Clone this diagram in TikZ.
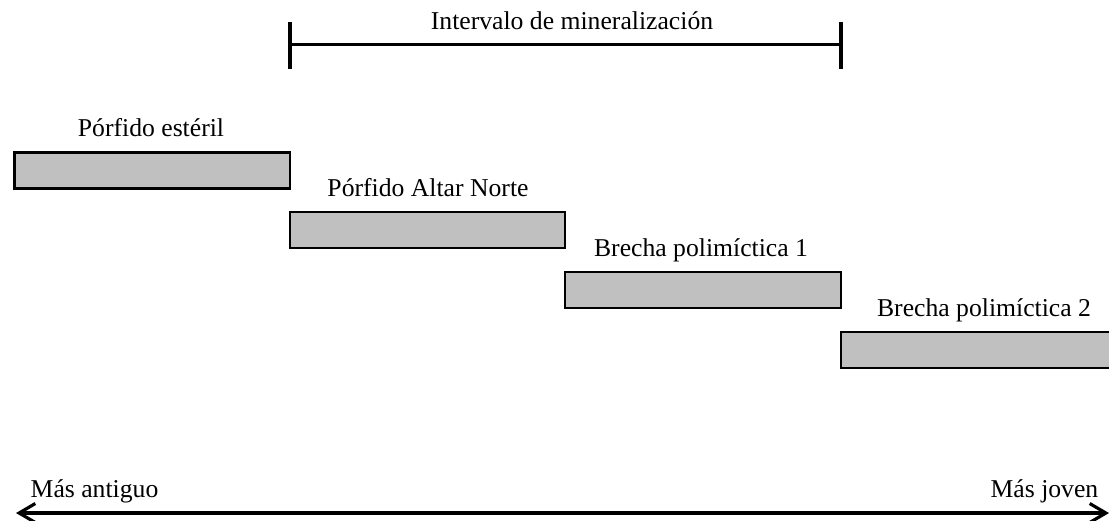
\documentclass[tikz,border=0pt]{standalone}
\usepackage{fontspec}
\setmainfont{Liberation Serif}
\usepackage{xcolor}
\usepackage{tikz}
\usetikzlibrary{positioning,arrows.meta,calc}
\definecolor{barfill}{RGB}{192,192,192}

\begin{document}
\begin{tikzpicture}[x=0.01cm,y=-0.01cm,
  font=\fontsize{7.3}{8.8}\selectfont,
  bar/.style={draw, line width=0.75pt, fill=barfill, minimum height=0.36cm, inner sep=0pt},
  lbl/.style={anchor=base, inner sep=0pt},
  brace/.style={line width=0.65pt},
  tick/.style={line width=0.9pt},
  timeline/.style={line width=0.9pt, {Straight Barb[length=4.6pt,width=5.4pt]}-{Straight Barb[length=4.6pt,width=5.4pt]}}]
\useasboundingbox (0,0) rectangle (1109,520);

% Bars
\node[bar, minimum width=2.755cm] (barA) at (152.25,170.5) {};
\node[bar, minimum width=2.75cm] (barB) at (427.5,230) {};
\node[bar, minimum width=2.76cm] (barC) at (703,290) {};
\node[bar, minimum width=2.76cm] (barD) at (979,350) {};

\node[lbl] (lblA) at (151,136) {Pórfido estéril};
\node[lbl] (lblB) at (428,196) {Pórfido Altar Norte};
\node[lbl] (lblC) at (701,256) {Brecha polimíctica 1};
\node[lbl] (lblD) at (984,316.5) {Brecha polimíctica 2};

% Mineralization interval
\coordinate (minA) at (290,44.5);
\coordinate (minB) at (841,44.5);
\draw[brace] (minA) -- (minB);
\draw[tick] ($(minA)+(0,-22.5)$) -- ($(minA)+(0,24.5)$);
\draw[tick] ($(minB)+(0,-22.5)$) -- ($(minB)+(0,24.5)$);
\node[lbl] (lblMin) at (572,29.5) {Intervalo de mineralización};

% Time axis
\coordinate (old) at (16,513);
\coordinate (young) at (1109,513);
\draw[timeline] (old) -- (young);
\node[lbl, anchor=base west] (lblOld) at (30,497) {Más antiguo};
\node[lbl, anchor=base east] (lblYoung) at (1099,497) {Más joven};
\end{tikzpicture}
\end{document}
